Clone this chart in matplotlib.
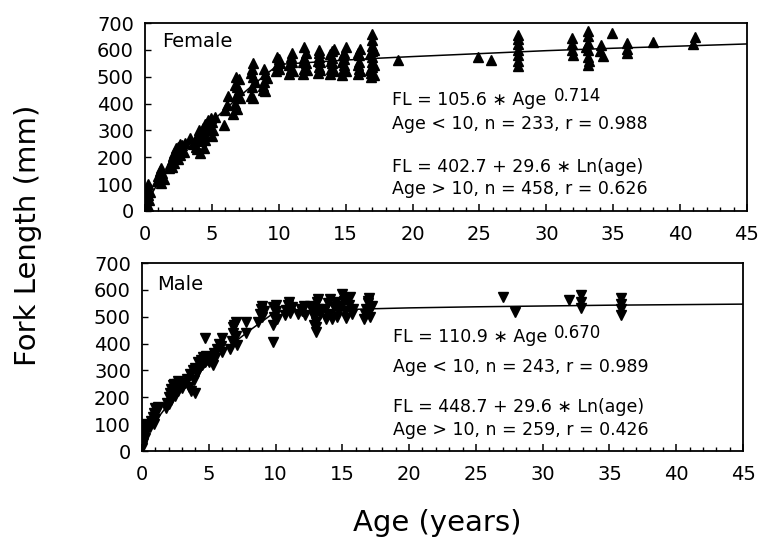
import numpy as np
import matplotlib
matplotlib.use("Agg")
import matplotlib.pyplot as plt
from matplotlib.ticker import MultipleLocator

# fork length (mm) vs age (years)
female_age = [0.05, 0.1, 0.1, 0.15, 0.2, 0.2, 0.25, 0.2, 0.3, 0.35, 0.05, 0.15,
              0.9, 1.0, 1.1, 1.2, 1.3, 1.4, 1.2, 1.1,
              1.8, 1.9, 2.0, 2.1, 2.2, 2.3, 2.4, 2.5, 2.6, 2.7, 2.8, 2.2, 2.5, 2.9, 3.0, 2.0, 2.6, 2.3, 3.4,
              3.6, 3.8, 4.0, 4.0, 4.1, 4.2, 4.3, 4.4, 4.5, 4.6, 4.7, 4.8, 4.9, 5.0, 5.1, 5.2, 3.9, 4.2,
              4.5, 4.4, 3.7, 5.0,
              5.9, 6.0, 6.1, 6.2,
              6.6, 6.7, 6.8, 6.9, 7.0, 6.8, 7.0, 7.1, 6.9, 6.7,
              7.9, 8.0, 8.0, 8.1, 8.1, 8.2, 7.9, 8.1,
              8.8, 8.9, 9.0, 8.9, 9.1, 8.8, 9.0,
              9.8, 9.9, 10.0, 10.0, 9.9, 10.1,
              10.8, 10.9, 11.0, 10.9, 11.0, 10.8, 11.1,
              11.8, 11.9, 12.0, 11.9, 12.0, 11.9, 11.8, 12.1,
              12.9, 13.0, 13.1, 13.0, 13.0, 12.9, 13.1, 13.0,
              13.8, 13.9, 14.0, 14.0, 14.0, 14.1, 13.9, 14.1, 13.8,
              14.7, 14.8, 14.9, 14.9, 14.9, 15.0, 14.8, 15.0, 14.7,
              15.9, 16.0, 16.0, 16.0, 16.1, 15.9, 16.1, 15.9,
              16.9, 16.9, 17.0, 17.0, 17.0, 17.0, 17.0, 17.0, 17.0, 16.8, 17.1, 16.8, 17.1, 17.1,
              18.9, 24.9, 25.9,
              27.9, 27.9, 27.9, 27.9, 27.9, 27.9, 27.9,
              31.9, 31.9, 31.9, 32.0,
              33.1, 33.1, 33.1, 33.1, 33.1, 33.1, 33.0, 33.2,
              34.1, 34.0, 34.2, 34.9,
              36.0, 36.0, 36.0, 38.0, 41.1, 41.0]
female_fl = [5, 15, 30, 45, 20, 60, 80, 100, 40, 70, 55, 10,
             110, 130, 150, 160, 140, 120, 105, 125,
             160, 175, 190, 205, 215, 200, 225, 240, 210, 230, 245, 180, 195, 220, 255, 165, 250, 235, 270,
             250, 240, 280, 300, 215, 260, 310, 290, 325, 300, 340, 320, 345, 330, 300, 350, 230, 275,
             265, 235, 265, 280,
             320, 375, 395, 430,
             360, 400, 430, 460, 490, 500, 450, 420, 380, 470,
             430, 460, 530, 550, 500, 480, 515, 420,
             450, 480, 510, 530, 495, 465, 445,
             520, 545, 565, 530, 575, 550,
             510, 530, 555, 575, 590, 545, 520,
             510, 530, 550, 570, 590, 610, 555, 525,
             515, 535, 555, 575, 600, 560, 525, 590,
             510, 530, 550, 570, 595, 605, 560, 520, 585,
             505, 525, 545, 565, 590, 610, 580, 520, 555,
             510, 530, 555, 580, 605, 590, 520, 545,
             500, 515, 535, 555, 575, 595, 615, 635, 660, 525, 545, 585, 505, 600,
             562, 575, 562,
             540, 560, 580, 600, 620, 640, 655,
             643, 620, 600, 582,
             672, 650, 625, 600, 575, 545, 610, 560,
             618, 595, 578, 664,
             624, 605, 588, 630, 648, 620]

male_age = [0.0, 0.05, 0.1, 0.15, 0.2, 0.1, 0.25, 0.3, 0.0,
            0.6, 0.7, 0.8, 0.9, 1.0, 1.1, 1.2, 0.9, 1.0,
            1.8, 1.9, 2.0, 2.1, 2.2, 2.3, 2.4, 2.5, 2.6, 2.7, 2.8, 2.9, 2.2, 2.5, 3.0, 2.0, 2.4, 2.7,
            3.2, 3.4, 3.6, 3.8, 4.0, 4.2, 4.4, 4.6, 4.8, 3.5, 3.9, 4.1, 4.3, 4.5, 3.7, 4.0, 4.7,
            4.7,
            5.0, 5.2, 5.4, 5.6, 5.8, 6.0, 5.5, 5.9, 5.3, 6.0,
            6.6, 6.7, 6.8, 6.9, 7.0, 7.0, 7.1, 6.8,
            7.8, 7.8,
            8.7, 8.8, 8.9, 9.0, 9.0, 9.1, 9.8, 9.9, 10.0, 10.0, 10.1, 9.8, 9.8,
            10.7, 10.8, 10.9, 11.0, 11.1, 11.2,
            11.7, 11.9, 12.0, 12.1, 12.2,
            12.6, 12.8, 12.9, 13.0, 13.0, 13.0, 13.1, 13.2, 13.2, 13.3, 12.9,
            13.7, 13.9, 14.0, 14.1, 14.2, 14.4, 14.5, 14.6, 14.7, 13.8,
            14.9, 15.0, 15.1, 15.2, 15.3, 15.5, 15.6, 15.7, 15.4, 15.8,
            16.6, 16.7, 16.8, 16.9, 17.0, 17.1, 17.0, 16.9, 17.2,
            27.0, 27.9, 32.0, 32.9, 32.9, 32.9,
            35.9, 35.9, 35.9, 35.9]
male_fl = [20, 40, 60, 80, 100, 30, 50, 70, 10,
           90, 110, 125, 140, 160, 150, 165, 100, 120,
           160, 180, 200, 215, 230, 245, 215, 235, 250, 225, 240, 255, 190, 205, 235, 175, 250, 260,
           255, 270, 285, 300, 310, 330, 340, 350, 355, 240, 265, 290, 305, 320, 225, 215, 330,
           420,
           330, 350, 365, 380, 400, 420, 345, 390, 320, 370,
           380, 410, 440, 470, 480, 430, 395, 460,
           481, 438,
           480, 510, 530, 500, 540, 520, 470, 500, 520, 545, 490, 535, 407,
           505, 525, 545, 555, 515, 535,
           510, 530, 520, 540, 505,
           540, 520, 500, 480, 460, 445, 555, 565, 530, 510, 470,
           530, 550, 510, 565, 490, 535, 555, 500, 520, 490,
           540, 585, 560, 520, 495, 545, 575, 510, 565, 530,
           490, 510, 530, 550, 570, 500, 520, 560, 540,
           574, 519, 562, 580, 555, 531,
           568, 548, 528, 506]

# fitted curves as drawn
fit_age = [0, 0.5, 1, 2, 3, 4, 5, 6, 7, 8, 9, 10, 12, 15, 17.5, 20, 25, 30, 35, 40, 45]
female_fit = [0, 64, 106, 173, 231, 284, 333, 379, 424, 466, 507, 546, 552, 562, 569,
              575, 586, 597, 606, 614, 622]
male_fit = [0, 70, 111, 176, 232, 281, 326, 368, 408, 447, 483, 519, 522, 526, 530,
            533, 537, 540, 543, 545, 547]

female_eq = ["FL = 105.6 \u2217 Age", "0.714", "Age < 10, n = 233, r = 0.988",
             "FL = 402.7 + 29.6 \u2217 Ln(age)", "Age > 10, n = 458, r = 0.626"]
male_eq = ["FL = 110.9 \u2217 Age", "0.670", "Age < 10, n = 243, r = 0.989",
           "FL = 448.7 + 29.6 \u2217 Ln(age)", "Age > 10, n = 259, r = 0.426"]

plt.rcParams['font.family'] = ['DejaVu Sans']

fig = plt.figure(figsize=(7.62, 5.4), dpi=100)
ax_f = fig.add_axes([0.1903, 0.6093, 0.790, 0.3481])
ax_m = fig.add_axes([0.1864, 0.1648, 0.7887, 0.3481])


def style_axis(ax):
    ax.set_xlim(0, 45)
    ax.set_ylim(0, 700)
    ax.xaxis.set_major_locator(MultipleLocator(5))
    ax.xaxis.set_minor_locator(MultipleLocator(1))
    ax.yaxis.set_major_locator(MultipleLocator(100))
    ax.tick_params(axis='x', which='major', direction='in', length=5, width=1.1,
                   labelsize=14, pad=10)
    ax.tick_params(axis='x', which='minor', direction='in', length=3, width=1.0)
    ax.tick_params(axis='y', which='major', direction='in', length=4, width=1.0,
                   labelsize=14, pad=8)
    for sp in ax.spines.values():
        sp.set_linewidth(1.3)


def draw_eq(ax, lines, x, ys):
    t = ax.text(x, ys[0], lines[0], fontsize=12.5, va='center')
    ax.annotate(lines[1], xy=(1, 0.5), xycoords=t, xytext=(5, 3),
                textcoords='offset points', fontsize=12, va='center')
    for s, y in zip(lines[2:], ys[1:]):
        ax.text(x, y, s, fontsize=12.5, va='center')


# female panel
ax_f.plot(female_age, female_fl, 'k^', ms=7.5, mec='k')
ax_f.plot(fit_age, female_fit, 'k-', lw=1.1)
style_axis(ax_f)
ax_f.text(0.028, 0.9, "Female", transform=ax_f.transAxes, fontsize=14, va='center')
draw_eq(ax_f, female_eq, 18.5, [413, 324, 164, 82])

# male panel
ax_m.plot(male_age, male_fl, 'kv', ms=7.5, mec='k')
ax_m.plot(fit_age, male_fit, 'k-', lw=1.1)
style_axis(ax_m)
ax_m.text(0.025, 0.888, "Male", transform=ax_m.transAxes, fontsize=14, va='center')
draw_eq(ax_m, male_eq, 18.8, [424, 313, 164, 78])

fig.text(0.037, 0.565, "Fork Length (mm)", rotation=90, fontsize=21,
         ha='center', va='center')
fig.text(0.574, 0.032, "Age (years)", fontsize=21, ha='center', va='center')

fig.savefig("out.png", dpi=100)
